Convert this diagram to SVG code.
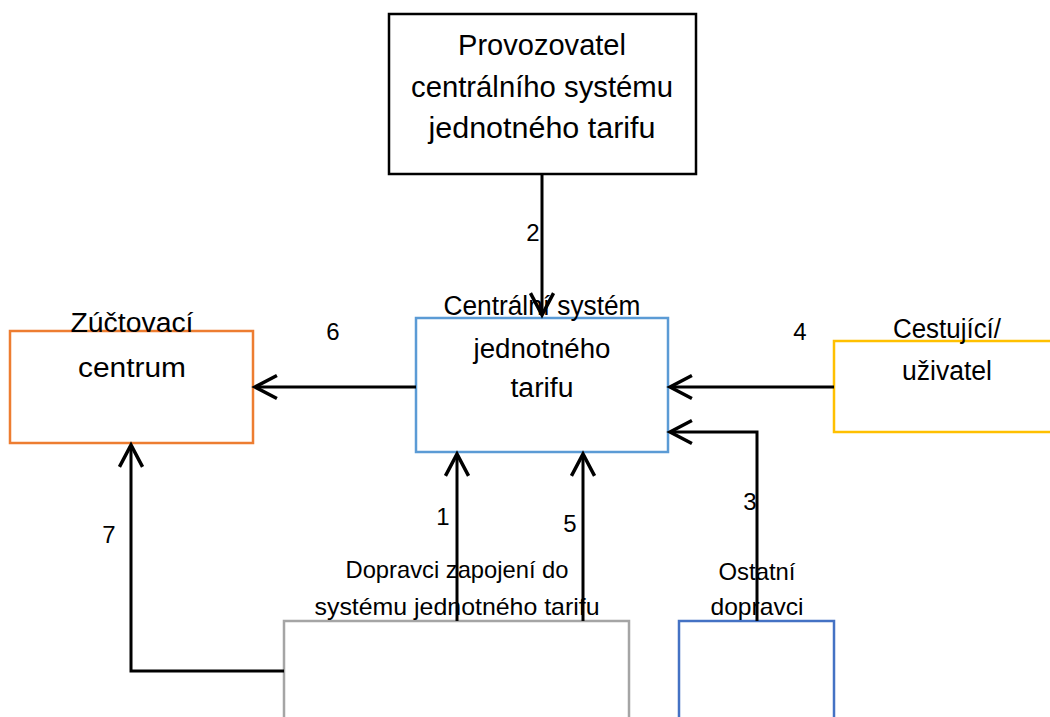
<svg xmlns="http://www.w3.org/2000/svg" width="1050" height="717" viewBox="0 0 1050 717">
<defs>
<style>
.box{fill:#fff;stroke-width:2.5}
.t{font-family:"Liberation Sans",Arial,sans-serif;fill:#000;text-anchor:middle}
.big{font-size:29px}
.mid{font-size:27px}
.sm{font-size:24px}
.num{font-size:24px}
.c{fill:none;stroke:#000;stroke-width:3}
</style>
<marker id="ah" markerUnits="userSpaceOnUse" markerWidth="30" markerHeight="30" viewBox="-22 -12 26 24" refX="0" refY="0" orient="auto">
<path d="M-19,-10 L0,0 L-19,10" fill="none" stroke="#000" stroke-width="3"/>
</marker>
</defs>
<rect width="1050" height="717" fill="#fff"/>

<g id="provozovatel">
<rect class="box" x="389" y="14" width="307" height="160" stroke="#000"/>
<text class="t big" x="542" y="55" textLength="168" lengthAdjust="spacingAndGlyphs">Provozovatel</text>
<text class="t big" x="542" y="97" textLength="262" lengthAdjust="spacingAndGlyphs">centrálního systému</text>
<text class="t big" x="542" y="138" textLength="227" lengthAdjust="spacingAndGlyphs">jednotného tarifu</text>
</g>

<g id="centralni">
<rect class="box" x="416" y="318" width="252" height="134" stroke="#5B9BD5"/>
</g>

<g id="zuctovaci">
<rect class="box" x="10" y="331" width="243" height="112" stroke="#ED7D31"/>
</g>

<g id="cestujici">
<rect class="box" x="834" y="341" width="230" height="91" stroke="#FFC000"/>
</g>

<g id="dopravci">
<rect class="box" x="284" y="621" width="345" height="110" stroke="#A5A5A5"/>
</g>

<g id="ostatni">
<rect class="box" x="679" y="621" width="155" height="110" stroke="#4472C4"/>
</g>

<g id="connectors">
<path class="c" d="M542,174 L542,315" marker-end="url(#ah)"/>
<path class="c" d="M416,387 L255,387" marker-end="url(#ah)"/>
<path class="c" d="M834,387 L670,387" marker-end="url(#ah)"/>
<path class="c" d="M757,621 L757,432 L670,432" marker-end="url(#ah)"/>
<path class="c" d="M457,621 L457,454" marker-end="url(#ah)"/>
<path class="c" d="M583,621 L583,454" marker-end="url(#ah)"/>
<path class="c" d="M284,671 L131,671 L131,445" marker-end="url(#ah)"/>
<text class="t num" x="533" y="241">2</text>
<text class="t num" x="333" y="340">6</text>
<text class="t num" x="800" y="340">4</text>
<text class="t num" x="750" y="510">3</text>
<text class="t num" x="443" y="525">1</text>
<text class="t num" x="570" y="532">5</text>
<text class="t num" x="109" y="543">7</text>
</g>

<g id="labels">
<text class="t mid" x="542" y="315" textLength="197" lengthAdjust="spacingAndGlyphs">Centrální systém</text>
<text class="t mid" x="542" y="358" textLength="137" lengthAdjust="spacingAndGlyphs">jednotného</text>
<text class="t mid" x="542" y="397" textLength="63" lengthAdjust="spacingAndGlyphs">tarifu</text>
<text class="t mid" x="132" y="332" textLength="123" lengthAdjust="spacingAndGlyphs">Zúčtovací</text>
<text class="t mid" x="132" y="377" textLength="108" lengthAdjust="spacingAndGlyphs">centrum</text>
<text class="t mid" x="947" y="338" textLength="108" lengthAdjust="spacingAndGlyphs">Cestující/</text>
<text class="t mid" x="947" y="380" textLength="90" lengthAdjust="spacingAndGlyphs">uživatel</text>
<text class="t sm" x="457" y="578" textLength="223" lengthAdjust="spacingAndGlyphs">Dopravci zapojení do</text>
<text class="t sm" x="457" y="615" textLength="285" lengthAdjust="spacingAndGlyphs">systému jednotného tarifu</text>
<text class="t sm" x="757" y="580" textLength="77" lengthAdjust="spacingAndGlyphs">Ostatní</text>
<text class="t sm" x="757" y="615" textLength="93" lengthAdjust="spacingAndGlyphs">dopravci</text>
</g>
</svg>
